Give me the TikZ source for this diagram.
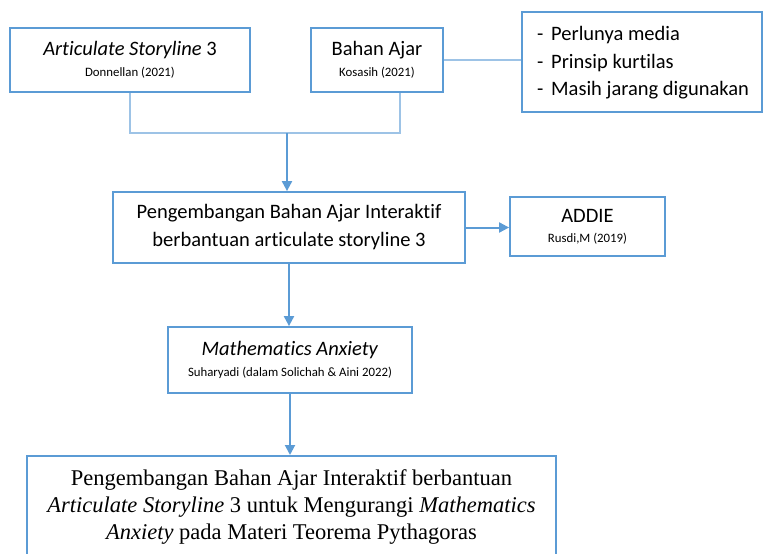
\documentclass[tikz,border=0pt]{standalone}
\usepackage{fontspec}
\setmainfont[Ligatures={NoCommon}]{Carlito}
\newfontfamily\serifG{Liberation Serif}
\usetikzlibrary{arrows.meta}
\definecolor{bord}{HTML}{5B9BD5}
\definecolor{lite}{HTML}{9DC3E6}
\tikzset{
  box/.style={draw=bord, line width=1.8pt, fill=white, inner sep=0pt, align=center, font=\bigtxt},
  lnk/.style={draw=lite, line width=1.4pt},
  arr/.style={draw=bord, line width=2pt, -{Triangle[length=10pt,width=10pt]}},
}
\newcommand{\bigtxt}{\fontsize{20.5}{28}\selectfont}
\newcommand{\smltxt}{\fontsize{12.8}{14}\selectfont}
\newcommand{\dashitem}{\makebox[14pt][l]{-}}
\begin{document}
\begin{tikzpicture}[x=1pt,y=-1pt]
\useasboundingbox (0,0) rectangle (763,554);
\node[box, minimum width=240pt, minimum height=64pt] (A) at (130,60)
  {\textit{Articulate Storyline} 3\\[-7pt]{\smltxt Donnellan (2021)}};
\node[box, minimum width=132pt, minimum height=64pt] (B) at (377,60)
  {Bahan Ajar\\[-7pt]{\smltxt Kosasih (2021)}};
\node[box, minimum width=240pt, minimum height=100pt] (C) at (642,62) {};
\node[align=left, anchor=west, inner sep=0pt, font=\fontsize{20.5}{27.5}\selectfont] (Ct) at (537,63)
  {\dashitem Perlunya media\\ \dashitem Prinsip kurtilas\\ \dashitem Masih jarang digunakan};
\node[box, minimum width=352pt, minimum height=71pt] (D) at (289,227.5)
  {Pengembangan Bahan Ajar Interaktif\\ berbantuan articulate storyline 3};
\node[box, minimum width=155pt, minimum height=59pt] (E) at (587.5,226.5)
  {ADDIE\\[-8pt]{\smltxt Rusdi,M (2019)}};
\node[box, minimum width=244pt, minimum height=66pt] (F) at (290,360)
  {\textit{Mathematics Anxiety}\\[-7pt]{\smltxt Suharyadi (dalam Solichah \& Aini 2022)}};
\node[box, minimum width=529pt, minimum height=106pt, anchor=north] (G) at (291.5,455)
  {};
\node[align=center, anchor=north, inner sep=0pt, font=\serifG\fontsize{22.5}{27}\selectfont] (Gt) at (291.5,469.5)
  {Pengembangan Bahan Ajar Interaktif berbantuan\\
   \textit{Articulate Storyline} 3 untuk Mengurangi \textit{Mathematics}\\
   \textit{Anxiety} pada Materi Teorema Pythagoras};
\coordinate (j) at (287,133);
\coordinate (bb) at ([xshift=23pt]B.south);
\draw[lnk] (A.south) |- (j) -| (bb);
\draw[lnk] (B.east) -- (B.east -| C.west);
\draw[arr] (j) -- (j |- D.north);
\draw[arr] (D.east) -- (D.east -| E.west);
\draw[arr] (D.south) -- (D.south |- F.north);
\draw[arr] (F.south) -- (F.south |- G.north);
\end{tikzpicture}
\end{document}
